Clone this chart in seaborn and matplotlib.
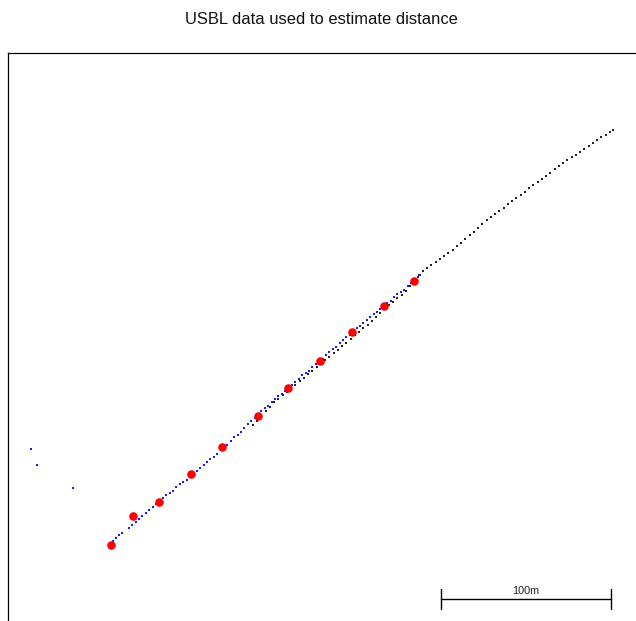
import matplotlib
matplotlib.use("Agg")
import matplotlib.pyplot as plt
import seaborn as sns
import numpy as np

# Local grid coordinates in metres (easting, northing)
ship_east = [144.0, 146.5, 149.0, 151.5, 154.0, 156.5, 159.0, 161.5, 164.0, 166.5,
             169.0, 171.5, 174.0, 176.5, 179.0, 181.5, 184.0, 186.5, 189.0, 191.5,
             194.0, 196.5, 199.0, 201.5, 204.0, 206.5, 209.0, 211.5, 214.0, 216.5,
             219.0, 221.5, 224.0, 226.5, 229.0, 231.5, 234.0, 236.5, 239.0, 241.5,
             244.0, 246.5, 249.0, 251.5, 254.0, 256.5, 259.0, 261.5, 264.0, 266.5,
             269.0, 271.5, 274.0, 276.5, 279.0, 281.5, 284.0, 286.5, 289.0, 291.5,
             294.0, 296.5, 299.0, 301.5, 304.0, 306.5, 309.0, 311.5, 314.0, 316.5,
             319.0, 321.5, 324.0, 326.5, 329.0, 331.5, 334.0, 336.5, 339.0, 341.5,
             344.0, 346.5, 349.0, 351.5, 354.0, 356.0]
ship_north = [115.2, 117.9, 120.6, 123.3, 126.0, 128.7, 130.7, 132.8, 134.9, 137.0,
              139.0, 141.1, 143.2, 145.2, 147.2, 149.2, 151.3, 153.3, 155.4, 157.4,
              159.5, 161.6, 163.7, 165.8, 168.0, 170.1, 172.2, 174.4, 176.5, 178.8,
              181.3, 183.6, 185.7, 187.8, 189.9, 192.0, 194.1, 196.8, 200.0, 203.5,
              205.8, 207.5, 209.3, 211.1, 212.8, 214.6, 216.4, 218.4, 220.5, 222.6,
              224.7, 226.9, 229.0, 231.2, 233.4, 235.6, 237.5, 239.4, 241.3, 243.2,
              245.1, 247.0, 248.9, 250.8, 252.6, 254.6, 256.3, 258.2, 260.1, 262.0,
              263.8, 265.7, 267.6, 269.4, 271.1, 272.7, 274.4, 276.0, 277.7, 279.4,
              281.2, 282.9, 284.6, 286.1, 287.6, 288.8]

usbl_east = [59.5, 61.5, 63.5, 65.5, 67.0,
             71.0, 73.0, 75.0, 77.0, 79.0, 81.0, 83.0, 85.0, 87.0, 89.0,
             91.0, 93.0, 95.0, 97.0, 99.0, 101.0, 103.0, 105.0, 107.0, 109.0,
             111.0, 113.0, 115.0, 117.0, 119.0, 121.0, 123.0, 125.0, 127.0, 129.0,
             131.0, 133.0, 135.0, 137.0, 139.0, 141.0, 143.0, 145.0, 147.0, 149.0,
             151.0, 153.0, 155.0, 157.0, 159.0, 161.0, 163.0, 165.0, 167.0, 169.0,
             171.0, 173.0, 175.0, 177.0, 179.0, 181.0, 183.0, 185.0, 187.0, 189.0,
             191.0, 193.0, 195.0, 197.0, 199.0, 201.0, 203.0, 205.0, 207.0, 209.0,
             211.0, 213.0, 215.0, 217.0, 219.0, 221.0, 223.0, 225.0, 227.0, 229.0,
             231.0, 233.0, 235.0, 237.0, 239.0, 241.0, 242.5,
             13.3, 16.9, 38.4]
usbl_north = [45.0, 46.8, 48.9, 50.5, 51.9,
              54.8, 56.3, 58.3, 60.2, 61.8, 63.3, 65.2, 67.2, 68.7, 70.3,
              72.1, 73.9, 75.3, 76.7, 78.6, 80.4, 81.8, 83.2, 85.0, 86.9,
              88.4, 89.9, 91.8, 93.7, 95.2, 96.6, 98.5, 100.4, 102.0, 103.7,
              105.8, 108.0, 109.6, 111.3, 113.5, 115.8, 117.6, 119.4, 121.7, 123.7,
              125.2, 126.6, 128.6, 130.7, 132.1, 133.5, 135.5, 137.6, 139.0, 140.4,
              142.4, 144.5, 145.9, 147.3, 149.3, 151.3, 152.8, 154.2, 156.3, 158.4,
              159.9, 161.3, 163.4, 165.5, 167.0, 168.5, 170.5, 172.4, 173.8, 175.1,
              177.1, 179.0, 180.4, 181.7, 183.7, 185.6, 187.0, 188.3, 190.3, 192.2,
              193.6, 194.9, 196.9, 198.8, 200.2, 202.1, 203.5,
              101.2, 91.8, 78.4]

fix_east = [60.6, 73.5, 88.8, 107.6, 125.9, 147.1, 164.7, 183.5, 202.4, 221.2, 238.8]
fix_north = [44.7, 61.8, 70.0, 86.5, 102.4, 120.6, 137.1, 152.9, 170.0, 185.3, 200.0]

scale_length = 100  # metres
scale_label = "100m"
title = "USBL data used to estimate distance"

sns.set_theme(style="white")
plt.rcParams["font.family"] = ["Liberation Sans", "DejaVu Sans"]

fig = plt.figure(figsize=(6.36, 6.21), dpi=100)
ax = fig.add_axes([8 / 636, -5 / 621, 632 / 636, 573 / 621])
ax.set_xlim(0, 632 / 1.7)
ax.set_ylim(-5 / 1.7, 568 / 1.7)

sns.scatterplot(x=ship_east, y=ship_north, ax=ax, color="#222222", marker="s",
                s=2.6, linewidth=0, legend=False)
sns.scatterplot(x=usbl_east, y=usbl_north, ax=ax, color="#1a1aff", marker="s",
                s=2.8, linewidth=0, legend=False)
sns.scatterplot(x=fix_east, y=fix_north, ax=ax, color="#ff0000", marker="o",
                s=38, linewidth=0, legend=False, zorder=5)

# scale bar
x0 = 254.7
y0 = 12.9
ax.plot([x0, x0 + scale_length], [y0, y0], color="black", lw=1.0)
ax.plot([x0, x0], [y0 - 5.6, y0 + 6.0], color="black", lw=1.0)
ax.plot([x0 + scale_length, x0 + scale_length], [y0 - 5.6, y0 + 6.0], color="black", lw=1.0)
ax.text(x0 + scale_length / 2, y0 + 1.6, scale_label, ha="center", va="bottom",
        fontsize=7.8, color="#222222")

ax.set_xticks([])
ax.set_yticks([])
for sp in ax.spines.values():
    sp.set_color("black")
    sp.set_linewidth(0.9)

fig.text(321 / 636, 1 - 24 / 621, title, ha="center", va="baseline", fontsize=11.9,
         color="#111111")

fig.savefig("out.png", dpi=100)
